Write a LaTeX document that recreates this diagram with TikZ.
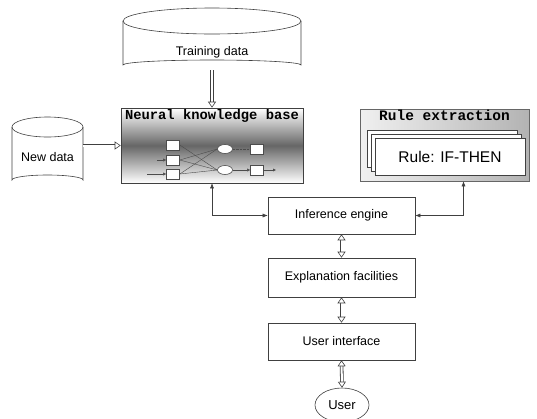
\documentclass[tikz,border=0pt]{standalone}
\usepackage{fontspec}
\setmainfont{Liberation Sans}
\newfontfamily\titlefont{Liberation Mono}
\usepackage{tikz}
\usetikzlibrary{arrows.meta,positioning,shapes.geometric,calc}

\begin{document}
\begin{tikzpicture}[x=1pt, y=-1pt, line width=0.6pt,
  every node/.style={font=\fontsize{12.5}{14}\selectfont},
  box/.style={draw=black!75, fill=white, minimum width=147pt,
              minimum height=37pt, inner sep=0pt},
  cyl/.style={draw=black!75, line width=0.6pt},
  titletext/.style={font=\titlefont\bfseries\fontsize{13.8}{16}\selectfont,
                    inner sep=1pt},
  card/.style={draw=black!75, fill=white, minimum width=150pt,
               minimum height=37pt, inner sep=0pt},
  neuron/.style={draw=black!70, fill=white, minimum width=13pt,
                 minimum height=10pt, inner sep=0pt},
  hidden/.style={draw=black!70, fill=white, ellipse, minimum width=15pt,
                 minimum height=9pt, inner sep=0pt},
  wire/.style={draw=black!70, line width=0.4pt},
  hollowtip/.tip={Triangle[fill=white, line width=0.6pt, length=6pt, width=8pt]},
  fat/.style={draw=black!75, double=white, double distance=2pt, line width=0.8pt},
  link/.style={draw=black!75, line width=0.5pt,
               {Latex[length=5pt,width=4pt]}-{Latex[length=5pt,width=4pt]}}]

  \useasboundingbox (0,0) rectangle (537,418);

  % Training data cylinder
  \draw[cyl, fill=white] (123,21) -- (123,65)
    arc[start angle=180, end angle=360, x radius=89, y radius=5] -- (301,21);
  \draw[cyl] (212,21) ellipse[x radius=89, y radius=13];
  \node[minimum width=178pt, minimum height=36pt, inner sep=0pt] (train) at (212,52)
  {Training data};

  % New data cylinder
  \draw[cyl] (12,127) -- (12,180)
    arc[start angle=180, end angle=360, x radius=35.5, y radius=5] -- (83,127);
  \draw[cyl] (47.5,127) ellipse[x radius=35.5, y radius=10];
  \node[minimum width=71pt, minimum height=20pt, inner sep=0pt] (newdata) at (47.5,157)
  {New data};

  % Neural knowledge base
  \node[draw=black!75, top color=white, bottom color=white, middle color=black!60,
        minimum width=182pt, minimum height=75pt, inner sep=0pt] (nkb) at (212,145.5) {};
  \node[titletext, below=0pt of nkb.north] (nkbtitle) {Neural knowledge base};

  % small network inside
  \node[neuron] (in1) at (173,145) {};
  \node[neuron] (in2) at (173,160) {};
  \node[neuron] (in3) at (173,174) {};
  \node[hidden] (h1) at (225,149) {};
  \node[hidden] (h2) at (225,170) {};
  \node[neuron] (o1) at (257,149) {};
  \node[neuron] (o2) at (257,170) {};
  \coordinate (src2) at (157,160);
  \coordinate (src3) at (147,174);
  \coordinate (sink) at (276,170);
  \draw[wire] (in1.east) -- (h2.west);
  \draw[wire] (in2.east) -- (h1.west);
  \draw[wire] (in2.east) -- (h2.west);
  \draw[wire] (in3.east) -- (h1.west);
  \draw[wire] (in3.east) -- (h2.west);
  \draw[wire, densely dotted] (h1.east) -- (o1.west);
  \draw[wire, -{Latex[length=3pt,width=3pt]}] (src2) -- (in2.west);
  \draw[wire, -{Latex[length=3pt,width=3pt]}] (src3) -- (in3.west);
  \draw[wire, -{Latex[length=3pt,width=3pt]}] (h2.east) -- (o2.west);
  \draw[wire, -{Latex[length=3pt,width=3pt]}] (o2.east) -- (sink);

  % Rule extraction
  \node[draw=black!60, left color=gray!12, right color=gray!60, middle color=gray!35,
        minimum width=169pt, minimum height=72pt, inner sep=0pt] (rule) at (444.5,145) {};
  \node[titletext, font=\titlefont\bfseries\fontsize{14.5}{16}\selectfont,
        below=0pt of rule.north] (ruletitle) {Rule extraction};
  \node[card] (card3) at (442,148.5) {};
  \node[card] (card2) at (446,152.5) {};
  \node[card, font=\fontsize{15.5}{17}\selectfont] (card) at (450,156.5) {Rule: IF-THEN};

  % Main chain
  \node[box] (inf) at (341.5,215.5) {Inference engine};
  \node[box, minimum height=39pt] (expl) at (341.5,277.5) {Explanation facilities};
  \node[box] (ui) at (341.5,341.5) {User interface};
  \node[draw=black!75, ellipse, minimum width=54pt, minimum height=34pt,
        inner sep=0pt, font=\fontsize{13}{15}\selectfont] (user) at (342,405) {User};

  % Arrows
  \draw[fat, -hollowtip] (train.south) -- (nkb.north);
  \draw[fat, -hollowtip] (newdata.east |- nkb.west) -- (nkb.west);
  \draw[fat, hollowtip-hollowtip] (inf.south) -- (expl.north);
  \draw[fat, hollowtip-hollowtip] (expl.south) -- (ui.north);
  \draw[fat, hollowtip-hollowtip] (ui.south) -- (user.north);
  \draw[link] (nkb.south) |- (inf.west);
  \draw[link] (inf.east) -| ([xshift=19pt]rule.south);
\end{tikzpicture}
\end{document}
